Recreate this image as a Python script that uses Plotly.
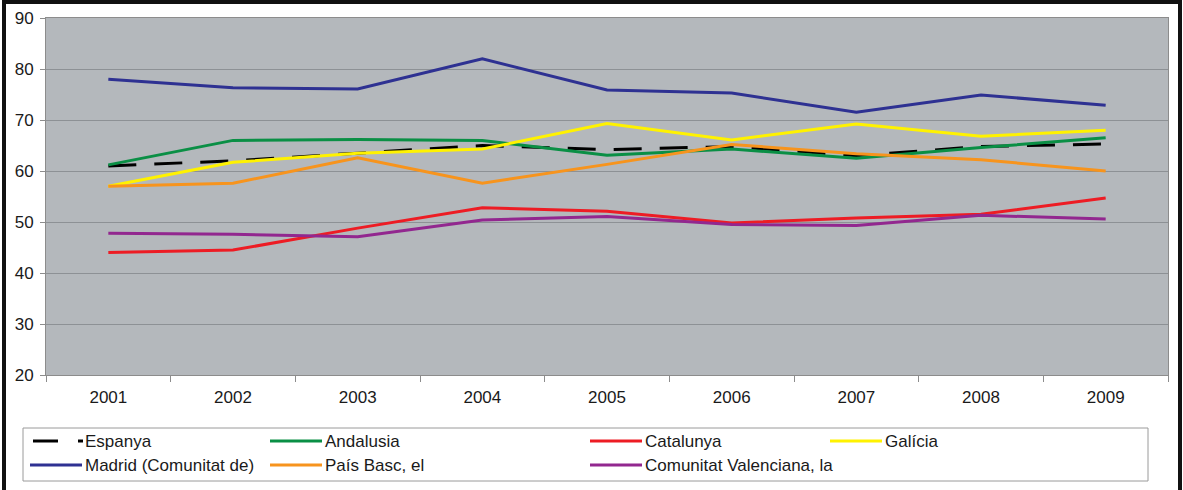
import plotly.graph_objects as go

years = ["2001", "2002", "2003", "2004", "2005", "2006", "2007", "2008", "2009"]

espanya = [61.0, 62.0, 63.5, 65.0, 64.2, 64.8, 63.0, 64.8, 65.3]
andalusia = [61.2, 66.0, 66.2, 66.0, 63.1, 64.3, 62.5, 64.6, 66.5]
catalunya = [44.0, 44.5, 48.8, 52.8, 52.1, 49.8, 50.8, 51.5, 54.7]
galicia = [57.0, 61.7, 63.5, 64.3, 69.3, 66.1, 69.2, 66.8, 68.0]
madrid = [78.0, 76.3, 76.1, 82.0, 75.9, 75.3, 71.5, 74.9, 72.9]
pais_basc = [57.0, 57.6, 62.6, 57.6, 61.3, 65.2, 63.4, 62.2, 60.0]
valenciana = [47.8, 47.6, 47.1, 50.4, 51.1, 49.5, 49.3, 51.3, 50.6]

names = ["Espanya", "Andalusia", "Catalunya", "Galícia",
         "Madrid (Comunitat de)", "País Basc, el", "Comunitat Valenciana, la"]
series = [espanya, andalusia, catalunya, galicia, madrid, pais_basc, valenciana]
colors = ["#000000", "#0a8f45", "#ed1c24", "#fff200", "#2e3192", "#f7941d", "#92278f"]
dashes = ["28px,18px", "solid", "solid", "solid", "solid", "solid", "solid"]

W, H = 1183, 490
L, R, T, B = 46, 15, 18, 115
PW, PH = W - L - R, H - T - B

def px(x):
    return (x - L) / PW

def py(y):
    return (H - B - y) / PH

FONT = "Liberation Sans, Arial, sans-serif"
TXT = "#1a1a1a"

fig = go.Figure()
for name, vals, col, dsh in zip(names, series, colors, dashes):
    fig.add_trace(go.Scatter(x=years, y=vals, name=name, mode="lines",
                             line=dict(color=col, width=3, dash=dsh),
                             showlegend=False))

shapes = []
annotations = []

# outer frame
shapes.append(dict(type="rect", xref="paper", yref="paper",
                   x0=px(4), x1=px(1180), y0=py(520), y1=py(2),
                   line=dict(color="#111111", width=4), layer="above"))
# legend box
shapes.append(dict(type="rect", xref="paper", yref="paper",
                   x0=px(23), x1=px(1148), y0=py(481), y1=py(428),
                   line=dict(color="#9a9a9a", width=1), fillcolor="white", layer="below"))

col_x = [30, 270, 590, 830]
row_y = [441, 465]
for i, (name, col) in enumerate(zip(names, colors)):
    r, c = divmod(i, 4)
    x0 = col_x[c]
    y = row_y[r]
    if dashes[i] != "solid":
        shapes.append(dict(type="line", xref="paper", yref="paper",
                           x0=px(x0 + 3), x1=px(x0 + 28), y0=py(y), y1=py(y),
                           line=dict(color=col, width=3)))
        shapes.append(dict(type="line", xref="paper", yref="paper",
                           x0=px(x0 + 48), x1=px(x0 + 53), y0=py(y), y1=py(y),
                           line=dict(color=col, width=3)))
    else:
        shapes.append(dict(type="line", xref="paper", yref="paper",
                           x0=px(x0), x1=px(x0 + 52), y0=py(y), y1=py(y),
                           line=dict(color=col, width=3)))
    annotations.append(dict(xref="paper", yref="paper", x=px(x0 + 53), y=py(y),
                            xanchor="left", yanchor="middle", showarrow=False,
                            text=name, font=dict(family=FONT, size=17, color=TXT)))

fig.update_layout(
    width=W, height=H,
    margin=dict(l=L, r=R, t=T, b=B, pad=0),
    paper_bgcolor="white",
    plot_bgcolor="#b4b8bc",
    font=dict(family=FONT, size=17, color=TXT),
    shapes=shapes,
    annotations=annotations,
    showlegend=False,
    xaxis=dict(type="category", range=[-0.5, len(years) - 0.5],
               showgrid=False, tickson="boundaries",
               ticks="outside", ticklen=6, tickcolor="#8c8c8c",
               showline=True, linecolor="#8c8c8c", linewidth=1, mirror=True,
               tickfont=dict(family=FONT, size=17, color=TXT),
               ticklabelstandoff=7,
               zeroline=False, fixedrange=True, automargin=False),
    yaxis=dict(range=[20, 90], dtick=10, tick0=20, showgrid=True,
               gridcolor="#8d9195", gridwidth=1,
               ticks="outside", ticklen=5, tickcolor="#8c8c8c",
               showline=True, linecolor="#8c8c8c", linewidth=1, mirror=True,
               tickfont=dict(family=FONT, size=17, color=TXT),
               ticklabelstandoff=3,
               zeroline=False, fixedrange=True, automargin=False),
)

fig.write_html(
    "out.html",
    config={"displayModeBar": False},
    post_script="document.body.style.margin='0';document.body.style.padding='0';document.body.style.overflow='hidden';",
)
